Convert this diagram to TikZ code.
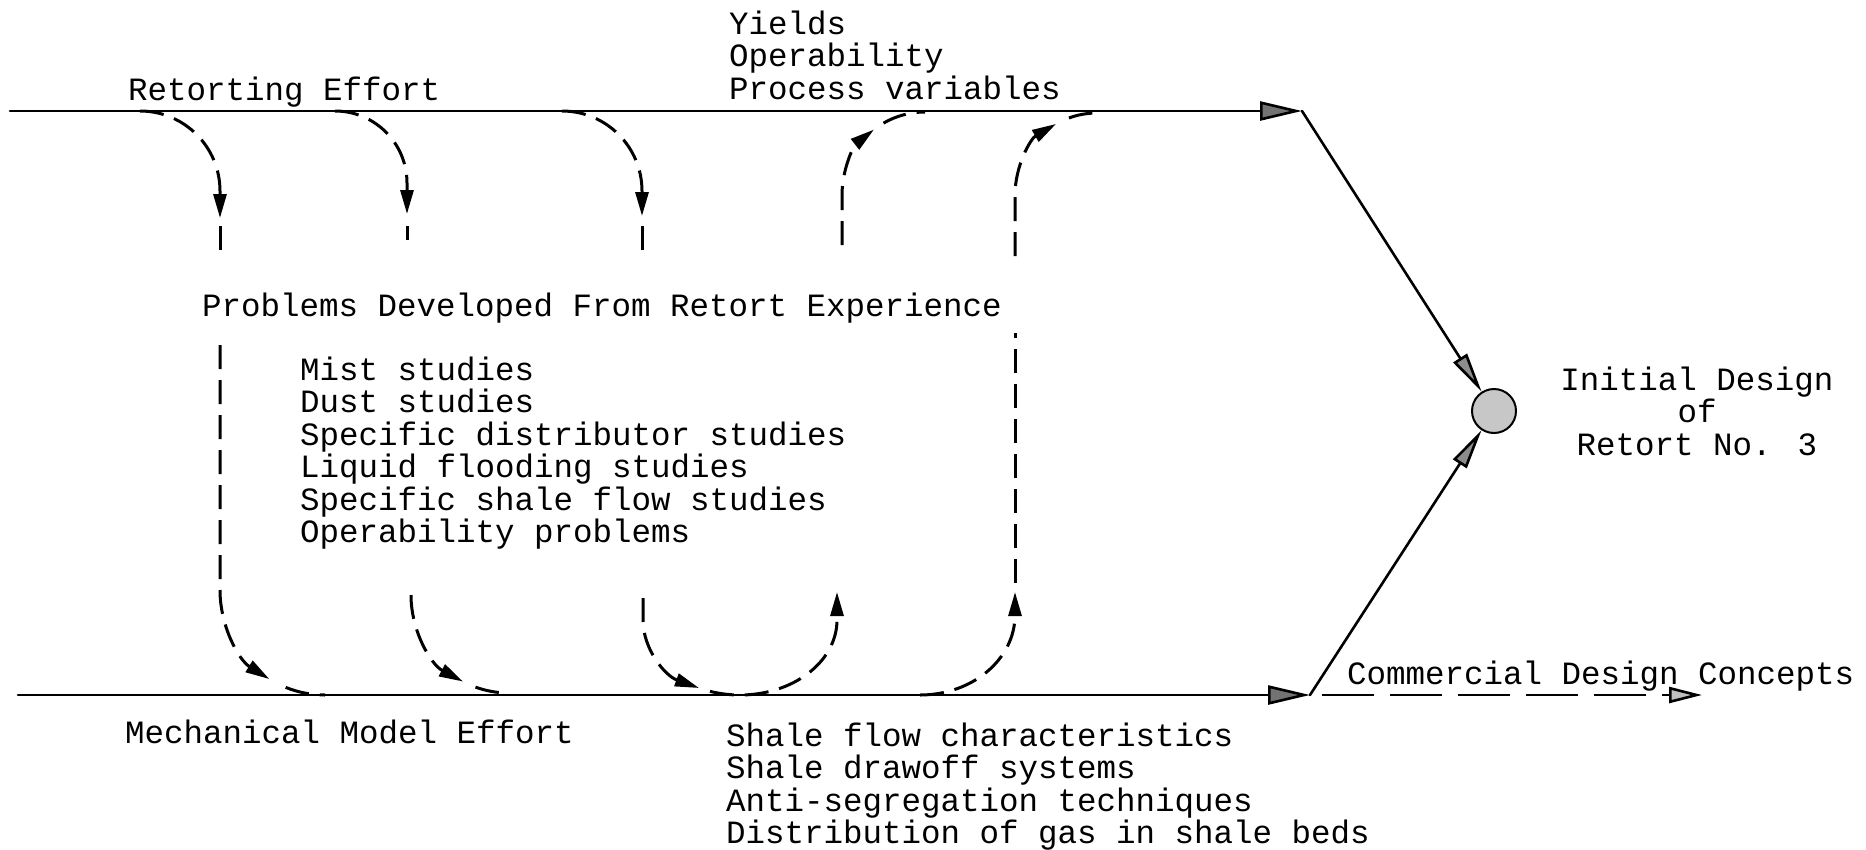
\documentclass[tikz,border=0pt]{standalone}
\usepackage{fontspec}
\newfontfamily\typewriter{Liberation Mono}
\usetikzlibrary{arrows.meta,calc}

\tikzset{
  label/.style={font=\typewriter\fontsize{32.5}{32.5}\selectfont, inner sep=0pt, anchor=base west},
  labelc/.style={label, anchor=base},
  mainline/.style={line width=2.6pt, line cap=round},
  flow/.style={line width=3pt, dash pattern=on 24pt off 11pt},
  bigtip/.tip={Triangle[length=42pt,width=19pt,fill=black!55]},
  hubtip/.tip={Triangle[length=40pt,width=16pt,fill=black!45]},
  opentip/.tip={Triangle[length=33pt,width=16pt,fill=black!25]},
  smalltip/.tip={Triangle[length=24pt,width=13pt]},
  hubstyle/.style={circle, draw, line width=2pt, fill=black!22, minimum size=44pt, inner sep=0pt}
}

\begin{document}
\begin{tikzpicture}[x=1pt,y=-1pt]
\useasboundingbox (0,0) rectangle (1866,849);

% the two main effort lines and where they meet
\coordinate (retL) at (10,111);
\coordinate (retR) at (1302,111);
\coordinate (mechL) at (18,695);
\coordinate (mechR) at (1310,695);
\coordinate (commR) at (1702,695);
\node[hubstyle] (hub) at (1494,411) {};

\draw[mainline,-bigtip] (retL) -- (retR);
\draw[mainline,-bigtip] (mechL) -- (mechR);
\draw[mainline,-hubtip] (retR) -- (hub);
\draw[mainline,-hubtip] (mechR) -- (hub);
\draw[line width=2.6pt, dash pattern=on 52pt off 16pt, shorten <=12pt, -opentip] (mechR) -- (commR);

% labels
\node[label] (ret) at (128,100) {Retorting Effort};
\node[label] (yld) at (729,34) {Yields};
\node[label] (opr) at (729,66.5) {Operability};
\node[label] (pvr) at (729,99) {Process variables};
\node[label] (prob) at (202,316) {Problems Developed From Retort Experience};
\foreach \t [count=\i] in {Mist studies, Dust studies, Specific distributor studies,
    Liquid flooding studies, Specific shale flow studies, Operability problems}
  \node[label] (p\i) at (300,{380+32.5*(\i-1)}) {\t};
\node[label] (mech) at (125,743) {Mechanical Model Effort};
\foreach \t [count=\i] in {Shale flow characteristics, Shale drawoff systems,
    Anti-segregation techniques, Distribution of gas in shale beds}
  \node[label] (s\i) at (726,{746+32.5*(\i-1)}) {\t};
\node[label] (comm) at (1347,684) {Commercial Design Concepts};
\node[labelc] (ini1) at (1697,390) {Initial Design};
\node[labelc] (ini2) at (1697,422.5) {of};
\node[labelc] (ini3) at (1697,455) {Retort No. 3};

% first loop: retort line down to the mechanical model line
\draw[flow,-smalltip] (140,111) arc[start angle=270,end angle=360,radius=80] -- (220,218);
\draw[flow] (220,226) -- (220,256);
\draw[flow,-smalltip] (220,345) -- (220,590) arc[start angle=180,end angle=122,radius=105];
\draw[flow] ($(325,590)+(112:105)$) arc[start angle=112,end angle=90,radius=105];

% second loop
\draw[flow,-smalltip] (335,111) arc[start angle=270,end angle=360,radius=72] -- (407,214);
\draw[flow] (407,226) -- (407,240);
\draw[flow,-smalltip] (411,595) arc[start angle=180,end angle=118,radius=98];
\draw[flow] ($(509,595)+(110:98)$) arc[start angle=110,end angle=90,radius=98];

% third loop, turning back up
\draw[flow,-smalltip] (562,111) arc[start angle=270,end angle=360,radius=80] -- (642,216);
\draw[flow] (642,226) -- (642,250);
\draw[flow,-smalltip] (643,598) -- (643,620) arc[start angle=180,end angle=115,x radius=97,y radius=75];
\draw[flow,-smalltip] ($(740,620)+(108:97 and 75)$) arc[start angle=108,end angle=0,x radius=97,y radius=75] -- (837,592);
\draw[flow,-smalltip] (842,245) -- (842,195) arc[start angle=180,end angle=232,radius=83];
\draw[flow] ($(925,195)+(240:83)$) arc[start angle=240,end angle=270,radius=83];

% return loop: mechanical model line up to the retort line
\draw[flow,-smalltip] (920,695) arc[start angle=90,end angle=0,x radius=95,y radius=80] -- (1015,592);
\draw[flow] (1015,583) -- (1015,333);
\draw[flow,-smalltip] (1015,256) -- (1015,195) arc[start angle=180,end angle=240,radius=82];
\draw[flow] ($(1097,195)+(250:82)$) arc[start angle=250,end angle=270,radius=82];
\end{tikzpicture}
\end{document}
